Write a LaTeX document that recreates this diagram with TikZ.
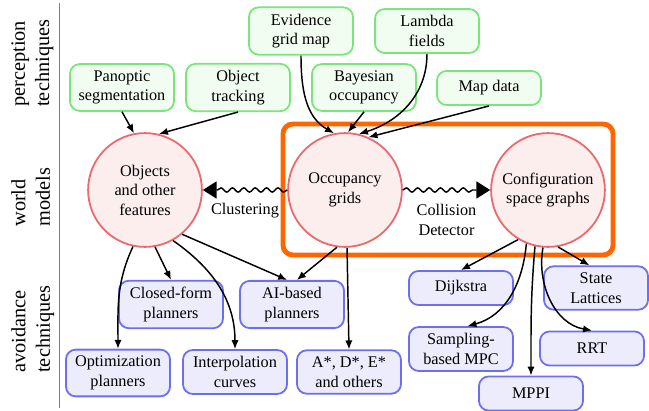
\documentclass[tikz,border=0pt]{standalone}
\usepackage{fontspec}
\setmainfont{Liberation Serif}
\usetikzlibrary{arrows.meta,decorations.pathmorphing}
\definecolor{gborder}{RGB}{120,230,120}
\definecolor{gfill}{RGB}{242,253,242}
\definecolor{rborder}{RGB}{235,105,110}
\definecolor{rfill}{RGB}{253,238,238}
\definecolor{bborder}{RGB}{110,110,240}
\definecolor{bfill}{RGB}{236,236,252}
\definecolor{oframe}{RGB}{255,102,0}
\begin{document}
\begin{tikzpicture}[x=0.615pt,y=-0.615pt,
  box/.style={draw, rounded corners=6pt, line width=1.1pt, align=center, minimum width=64pt, minimum height=21pt, inner ysep=4pt, inner xsep=2pt, font=\fontsize{10}{12}\selectfont},
  perc/.style={box, draw=gborder, fill=gfill},
  avoid/.style={box, draw=bborder, fill=bfill},
  model/.style={circle, draw=rborder, fill=rfill, line width=1.1pt, minimum size=70pt, inner sep=0pt, align=center, font=\fontsize{10}{12}\selectfont},
  conn/.style={line width=0.9pt, -{Latex[length=5.5pt,width=4.5pt]}},
  wavy/.style={line width=0.9pt, decorate, decoration={snake, amplitude=1.3pt, segment length=7pt, post length=9pt}, -{Triangle[length=8.5pt,width=10.5pt]}},
  rowlabel/.style={rotate=90, align=left, anchor=north west, inner sep=0pt, font=\fontsize{12.5}{15}\selectfont},
  edgelabel/.style={align=center, font=\fontsize{10}{12}\selectfont},
]
\useasboundingbox (0,0) rectangle (649,411);

% row labels and separator
\draw[gray, line width=0.6pt] (59,3) -- (59,408);
\node[rowlabel] (lperc) at (11,107) {perception\\techniques};
\node[rowlabel] (lworld) at (11,227) {world\\models};
\node[rowlabel] (lavoid) at (11,373) {avoidance\\techniques};

% highlight frame
\draw[oframe, line width=3pt, rounded corners=6pt] (283,124) rectangle (613,255);

% perception techniques
\node[perc] (pan) at (122,87.5) {Panoptic\\segmentation};
\node[perc] (trk) at (238,87.5) {Object\\tracking};
\node[perc] (evi) at (301,31) {Evidence\\grid map};
\node[perc] (lam) at (427,31) {Lambda\\fields};
\node[perc] (bay) at (364,87.5) {Bayesian\\occupancy};
\node[perc] (map) at (489,88) {Map data};

% world models
\node[model] (obj) at (145,190) {Objects\\and other\\features};
\node[model] (occ) at (345,190) {Occupancy\\grids};
\node[model] (conf) at (548,190) {Configuration\\space graphs};

% avoidance techniques
\node[avoid] (cls) at (171,304.5) {Closed-form\\planners};
\node[avoid] (ai) at (292,304.5) {AI-based\\planners};
\node[avoid] (opt) at (118,373) {Optimization\\planners};
\node[avoid] (itp) at (235,372) {Interpolation\\curves};
\node[avoid] (ast) at (349,372) {A*, D*, E*\\and others};
\node[avoid] (dij) at (461,288) {Dijkstra};
\node[avoid] (sta) at (596,288) {State\\Lattices};
\node[avoid] (smp) at (461,349) {Sampling-\\based MPC};
\node[avoid] (rrt) at (592,348.5) {RRT};
\node[avoid] (mppi) at (531,393.5) {MPPI};

% perception -> models
\draw[conn] (pan.south) -- (obj.101);
\draw[conn] (trk.south) -- (obj.76);
\draw[conn] (evi.south) to[out=-90,in=150] (occ.101);
\draw[conn] (bay.south) -- (occ.87);
\draw[conn] (lam.south) to[out=-90,in=17] (occ.76);
\draw[conn] (map.south) -- (occ.66);

% between models
\draw[wavy] (occ.west) -- (obj.east) node[edgelabel, midway, below=4.5pt] {Clustering};
\draw[wavy] (occ.east) -- (conf.west) node[edgelabel, midway, below=5pt] {Collision\\Detector};

% models -> avoidance
\draw[conn] (obj.-102) to[out=-115,in=90] (opt.north);
\draw[conn] (obj.-80) -- (cls.north);
\draw[conn] (obj.-61) to[out=-35,in=90] (itp.north);
\draw[conn] (obj.-50) -- ([xshift=-3pt]ai.north);
\draw[conn] (occ.-98) -- ([xshift=3pt]ai.north);
\draw[conn] (occ.-88) -- (ast.north);
\draw[conn] (conf.-121) -- (dij.north);
\draw[conn] (conf.-80) -- ([xshift=-4pt]sta.north);
\draw[conn] (conf.-112) to[out=-95,in=15] ([xshift=4pt]smp.north);
\draw[conn] (conf.-103) to[out=-95,in=90] (mppi.north);
\draw[conn] (conf.-95) to[out=-100,in=170] (rrt.north);
\end{tikzpicture}
\end{document}
